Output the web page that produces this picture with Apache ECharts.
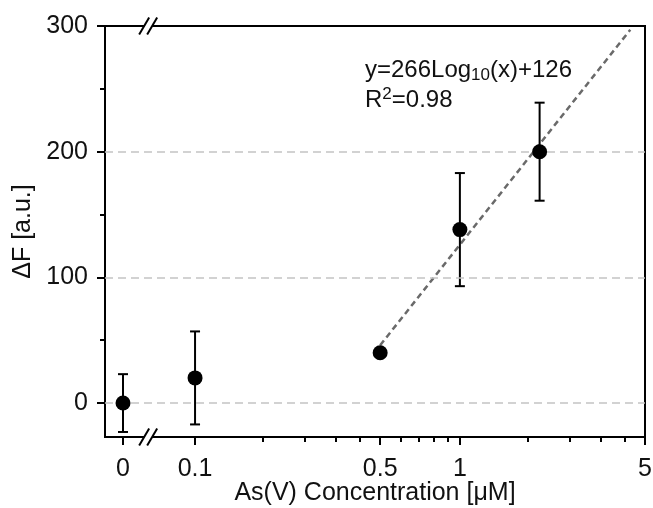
<!DOCTYPE html>
<html>
<head>
<meta charset="utf-8">
<script src="https://cdn.jsdelivr.net/npm/echarts@6/dist/echarts.min.js"></script>
<style>html,body{margin:0;padding:0;background:#fff;}#c{width:653px;height:508px;}</style>
</head>
<body>
<div id="c"></div>
<script>
// ---- data ----
const concentrations = [0, 0.1, 0.5, 1, 2];        // µM
const deltaF = [0, 20, 40, 138, 200];              // a.u.
const errorBars = [23, 37, 0, 45, 39];             // ± a.u.
const fitX = [0.5, 4.4];
const fitY = [46, 297];
const xTickValues = [0, 0.1, 0.5, 1, 5];
const xTickLabels = ['0', '0.1', '0.5', '1', '5'];
const xMinorTickValues = [0.18, 0.26, 0.34, 0.42, 0.6, 0.7, 0.8, 0.9, 1.8, 2.6, 3.4, 4.2];
const yTickValues = [0, 100, 200, 300];
const yMinorTickValues = [50, 150, 250];
const gridLineValues = [0, 100, 200];

// ---- broken log axis mapping (zero placed before the break) ----
const ZERO_POS = -1.272;
const BREAK_POS = -1.177;
const X_MIN = -1.34;
const X_MAX = Math.log10(5);
const Y_MIN = -27, Y_MAX = 300;
function toU(x) { return x === 0 ? ZERO_POS : Math.log10(x); }

const FONT = "'Liberation Sans', Arial, sans-serif";
const chart = echarts.init(document.getElementById('c'));

const pts = concentrations.map((c, i) => [toU(c), deltaF[i]]);
const errData = concentrations.map((c, i) => [toU(c), deltaF[i], errorBars[i]]);
const fitData = fitX.map((x, i) => [toU(x), fitY[i]]);

function xLabel(val) {
  for (let i = 0; i < xTickValues.length; i++) {
    if (Math.abs(toU(xTickValues[i]) - val) < 1e-6) return xTickLabels[i];
  }
  return '';
}

const option = {
  animation: false,
  backgroundColor: '#fff',
  grid: { left: 105, right: 8, top: 26, bottom: 71, containLabel: false, outerBoundsMode: 'none', show: true, borderColor: '#000', borderWidth: 2, backgroundColor: 'transparent' },
  xAxis: [
    {
      type: 'value', min: X_MIN, max: X_MAX, position: 'bottom',
      name: 'As(V) Concentration [μM]', nameLocation: 'middle', nameGap: 44, nameMoveOverlap: false,
      nameTextStyle: { fontFamily: FONT, fontSize: 25, color: '#111' },
      axisLine: { show: true, onZero: false, lineStyle: { color: '#000', width: 2 } },
      axisTick: { show: true, inside: false, customValues: xTickValues.map(toU), length: 8, lineStyle: { color: '#000', width: 2 } },
      axisLabel: { show: true, customValues: xTickValues.map(toU), formatter: xLabel, margin: 20, fontFamily: FONT, fontSize: 25, color: '#111' },
      splitLine: { show: false }
    },
    {
      type: 'value', min: X_MIN, max: X_MAX, position: 'bottom',
      axisLine: { show: false, onZero: false },
      axisTick: { show: true, inside: false, customValues: xMinorTickValues.map(toU), length: 5, lineStyle: { color: '#000', width: 2 } },
      axisLabel: { show: false },
      splitLine: { show: false }
    }
  ],
  yAxis: [
    {
      type: 'value', min: Y_MIN, max: Y_MAX, position: 'left',
      name: 'ΔF [a.u.]', nameLocation: 'middle', nameGap: 57, nameRotate: 90,
      nameTextStyle: { fontFamily: FONT, fontSize: 25, color: '#111' },
      axisLine: { show: true, onZero: false, lineStyle: { color: '#000', width: 2 } },
      axisTick: { show: true, inside: false, customValues: yTickValues, length: 8, lineStyle: { color: '#000', width: 2 } },
      axisLabel: { show: true, customValues: yTickValues, margin: 17, fontFamily: FONT, fontSize: 25, color: '#111' },
      splitLine: { show: false }
    },
    {
      type: 'value', min: Y_MIN, max: Y_MAX, position: 'left',
      axisLine: { show: false, onZero: false },
      axisTick: { show: true, inside: false, customValues: yMinorTickValues, length: 5, lineStyle: { color: '#000', width: 2 } },
      axisLabel: { show: false },
      splitLine: { show: false }
    }
  ],
  series: [
    {
      type: 'line', data: [], z: 1, silent: true,
      markLine: {
        silent: true, symbol: ['none', 'none'], label: { show: false }, animation: false,
        lineStyle: { type: [8, 5], color: '#c4c4c4', width: 1.5 },
        data: gridLineValues.map(v => ({ yAxis: v }))
      }
    },
    {
      type: 'line', data: fitData, showSymbol: false, symbol: 'none', z: 3, silent: true,
      lineStyle: { type: [6, 4], color: '#6a6a6a', width: 2.5 }
    },
    {
      type: 'custom', data: errData, z: 4, silent: true,
      renderItem: function (params, api) {
        const x = api.value(0), y = api.value(1), e = api.value(2);
        if (!e) return null;
        const top = api.coord([x, y + e]);
        const bot = api.coord([x, y - e]);
        const hw = 5;
        const st = { stroke: '#000', lineWidth: 2 };
        return {
          type: 'group',
          children: [
            { type: 'line', shape: { x1: top[0], y1: top[1], x2: bot[0], y2: bot[1] }, style: st },
            { type: 'line', shape: { x1: top[0] - hw, y1: top[1], x2: top[0] + hw, y2: top[1] }, style: st },
            { type: 'line', shape: { x1: bot[0] - hw, y1: bot[1], x2: bot[0] + hw, y2: bot[1] }, style: st }
          ]
        };
      }
    },
    {
      type: 'scatter', data: pts, symbol: 'circle', symbolSize: 15, z: 5, silent: true,
      itemStyle: { color: '#000', opacity: 1 }
    }
  ]
};
chart.setOption(option);

// break marks "//" on top and bottom frame lines, annotation text
const bx = chart.convertToPixel({ xAxisIndex: 0 }, BREAK_POS);
const yTop = chart.convertToPixel({ yAxisIndex: 0 }, Y_MAX);
const yBot = chart.convertToPixel({ yAxisIndex: 0 }, Y_MIN);
function breakMark(cy) {
  const st = { stroke: '#000', lineWidth: 2 };
  return [
    { type: 'rect', z: 100, shape: { x: bx - 4, y: cy - 3, width: 8, height: 6 }, style: { fill: '#fff' } },
    { type: 'line', z: 101, shape: { x1: bx - 9, y1: cy + 8.5, x2: bx + 1, y2: cy - 8.5 }, style: st },
    { type: 'line', z: 101, shape: { x1: bx - 1, y1: cy + 8.5, x2: bx + 9, y2: cy - 8.5 }, style: st }
  ];
}
chart.setOption({
  graphic: [].concat(breakMark(yTop), breakMark(yBot), [
    {
      type: 'text', z: 100, x: 365, y: 56,
      style: {
        text: '{m|y=266Log}{s|10}{m|(x)+126}',
        rich: {
          m: { fontFamily: FONT, fontSize: 24, lineHeight: 28, fill: '#111', verticalAlign: 'middle' },
          s: { fontFamily: FONT, fontSize: 17, lineHeight: 14, fill: '#111', verticalAlign: 'bottom' }
        }
      }
    },
    {
      type: 'text', z: 100, x: 365, y: 86,
      style: {
        text: '{m|R}{s|2}{m|=0.98}',
        rich: {
          m: { fontFamily: FONT, fontSize: 24, lineHeight: 28, fill: '#111', verticalAlign: 'middle' },
          s: { fontFamily: FONT, fontSize: 17, lineHeight: 18, fill: '#111', verticalAlign: 'top' }
        }
      }
    }
  ])
});
</script>
</body>
</html>
